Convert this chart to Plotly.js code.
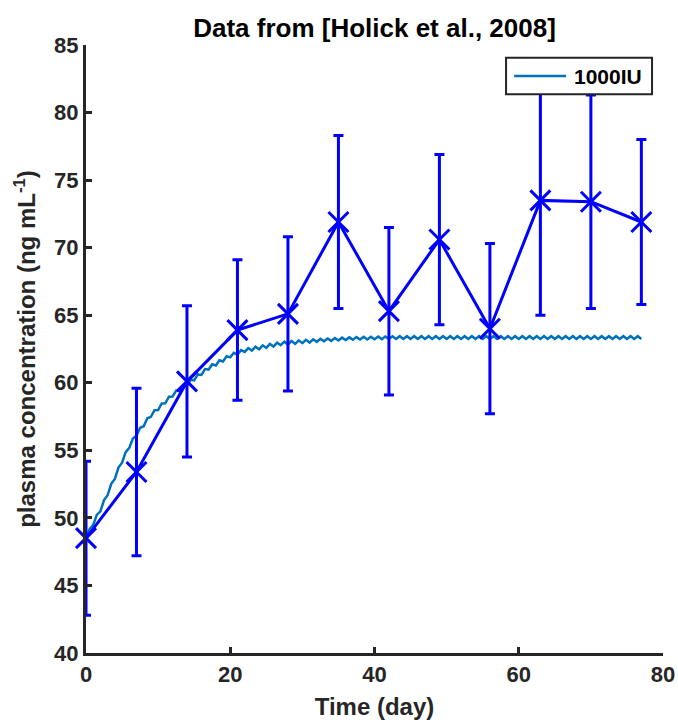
<!DOCTYPE html>
<html>
<head>
<meta charset="utf-8">
<script src="https://cdn.plot.ly/plotly-3.0.1.min.js"></script>
<style>html,body{margin:0;padding:0;background:#fff;}#chart{width:678px;height:720px;}</style>
</head>
<body>
<div id="chart"></div>
<script>
// Measured data (Holick et al., 2008)
var dataDay = [0, 7, 14, 21, 28, 35, 42, 49, 56, 63, 70, 77];
var dataConc = [48.5, 53.4, 60.1, 63.9, 65.1, 71.9, 65.3, 70.6, 64.0, 73.5, 73.4, 71.9];
var dataErr = [5.7, 6.2, 5.6, 5.2, 5.7, 6.4, 6.2, 6.3, 6.3, 8.5, 7.9, 6.1];

// Model curve "1000IU" (read every half day)
var curveDay = [
  0,0.5,1,1.5,2,2.5,3,3.5,4,4.5,
  5,5.5,6,6.5,7,7.5,8,8.5,9,9.5,
  10,10.5,11,11.5,12,12.5,13,13.5,14,14.5,
  15,15.5,16,16.5,17,17.5,18,18.5,19,19.5,
  20,20.5,21,21.5,22,22.5,23,23.5,24,24.5,
  25,25.5,26,26.5,27,27.5,28,28.5,29,29.5,
  30,30.5,31,31.5,32,32.5,33,33.5,34,34.5,
  35,35.5,36,36.5,37,37.5,38,38.5,39,39.5,
  40,40.5,41,41.5,42,42.5,43,43.5,44,44.5,
  45,45.5,46,46.5,47,47.5,48,48.5,49,49.5,
  50,50.5,51,51.5,52,52.5,53,53.5,54,54.5,
  55,55.5,56,56.5,57,57.5,58,58.5,59,59.5,
  60,60.5,61,61.5,62,62.5,63,63.5,64,64.5,
  65,65.5,66,66.5,67,67.5,68,68.5,69,69.5,
  70,70.5,71,71.5,72,72.5,73,73.5,74,74.5,
  75,75.5,76,76.5,77];
var curveConc = [
  48.45,49.17,49.48,50.22,50.48,51.32,51.68,52.52,52.88,53.72,
  54.08,54.87,55.18,55.87,56.08,56.67,56.78,57.37,57.48,57.97,
  57.98,58.47,58.48,58.97,58.98,59.42,59.38,59.82,59.78,60.22,
  60.18,60.62,60.58,61.02,60.98,61.37,61.28,61.67,61.58,61.97,
  61.88,62.22,62.08,62.42,62.28,62.57,62.38,62.67,62.48,62.77,
  62.58,62.87,62.68,62.97,62.78,63.04,62.83,63.09,62.88,63.14,
  62.93,63.18,62.98,63.22,63.03,63.25,63.07,63.28,63.10,63.31,
  63.13,63.34,63.16,63.36,63.18,63.38,63.20,63.40,63.21,63.41,
  63.22,63.42,63.23,63.43,63.24,63.44,63.24,63.45,63.24,63.45,
  63.24,63.45,63.24,63.45,63.24,63.45,63.24,63.45,63.24,63.45,
  63.24,63.45,63.24,63.45,63.24,63.45,63.24,63.45,63.24,63.45,
  63.24,63.45,63.24,63.45,63.24,63.45,63.24,63.45,63.24,63.45,
  63.24,63.45,63.24,63.45,63.24,63.45,63.24,63.45,63.24,63.45,
  63.24,63.45,63.24,63.45,63.24,63.45,63.24,63.45,63.24,63.45,
  63.24,63.45,63.24,63.45,63.24,63.45,63.24,63.45,63.24,63.45,
  63.24,63.45,63.24,63.45,63.24];

var xTicks = [0, 20, 40, 60, 80];
var yTicks = [40, 45, 50, 55, 60, 65, 70, 75, 80, 85];
var legendLabel = '1000IU';

var FONT = 'Liberation Sans, Arial, Helvetica, sans-serif';
var AX = '#262626';
var CURVE = '#0072BD';
var DATA = '#0000FF';

var traces = [
  {
    x: curveDay, y: curveConc, type: 'scatter', mode: 'lines', name: legendLabel,
    line: {color: CURVE, width: 2.5}, showlegend: false, cliponaxis: false
  },
  {
    x: dataDay, y: dataConc, type: 'scatter', mode: 'lines+markers', name: 'data',
    showlegend: false, cliponaxis: false,
    line: {color: DATA, width: 3},
    marker: {symbol: 'x-thin', size: 20, color: DATA, line: {color: DATA, width: 3}},
    error_y: {type: 'data', array: dataErr, visible: true, color: DATA, thickness: 3, width: 5}
  }
];

var axisCommon = {
  showline: true, linecolor: AX, linewidth: 3,
  ticks: 'inside', ticklen: 6, tickwidth: 3, tickcolor: AX,
  showgrid: false, zeroline: false, mirror: false,
  tickfont: {family: FONT, size: 22, color: AX, weight: 'bold'}
};

// legend box drawn in paper coordinates (plot area spans 86..663 px, 45..653 px)
var lgX0 = 0.728, lgX1 = 0.981, lgY0 = 0.919, lgY1 = 0.979;
var lgLineX0 = 0.742, lgLineX1 = 0.832, lgMid = 0.949, lgTextX = 0.842;

var layout = {
  width: 678, height: 720,
  margin: {l: 86, r: 15, t: 45, b: 67, pad: 0},
  paper_bgcolor: '#fff', plot_bgcolor: '#fff',
  font: {family: FONT, color: AX},
  showlegend: false,
  title: {
    text: 'Data from [Holick et al., 2008]',
    font: {family: FONT, size: 26, color: '#000', weight: 'bold'},
    xref: 'paper', x: 0.5, xanchor: 'center',
    yref: 'container', y: 1 - 28 / 720, yanchor: 'middle'
  },
  xaxis: Object.assign({}, axisCommon, {
    range: [0, 80], tickmode: 'array', tickvals: xTicks, ticktext: xTicks.map(String),
    title: {text: 'Time (day)', font: {family: FONT, size: 24, color: AX, weight: 'bold'}, standoff: 14}
  }),
  yaxis: Object.assign({}, axisCommon, {
    range: [40, 85], tickmode: 'array', tickvals: yTicks, ticktext: yTicks.map(String),
    title: {text: 'plasma concentration (ng mL<sup>-1</sup>)', font: {family: FONT, size: 24, color: AX, weight: 'bold'}, standoff: 12}
  }),
  shapes: [
    {type: 'rect', xref: 'paper', yref: 'paper', x0: lgX0, x1: lgX1, y0: lgY0, y1: lgY1,
     fillcolor: '#fff', line: {color: AX, width: 2}, layer: 'above'},
    {type: 'line', xref: 'paper', yref: 'paper', x0: lgLineX0, x1: lgLineX1, y0: lgMid, y1: lgMid,
     line: {color: CURVE, width: 2.5}, layer: 'above'}
  ],
  annotations: [
    {text: legendLabel, xref: 'paper', yref: 'paper', x: lgTextX, y: lgMid,
     xanchor: 'left', yanchor: 'middle', showarrow: false,
     font: {family: FONT, size: 21, color: '#000', weight: 'bold'}}
  ]
};

Plotly.newPlot('chart', traces, layout, {displayModeBar: false, staticPlot: true});
</script>
</body>
</html>
